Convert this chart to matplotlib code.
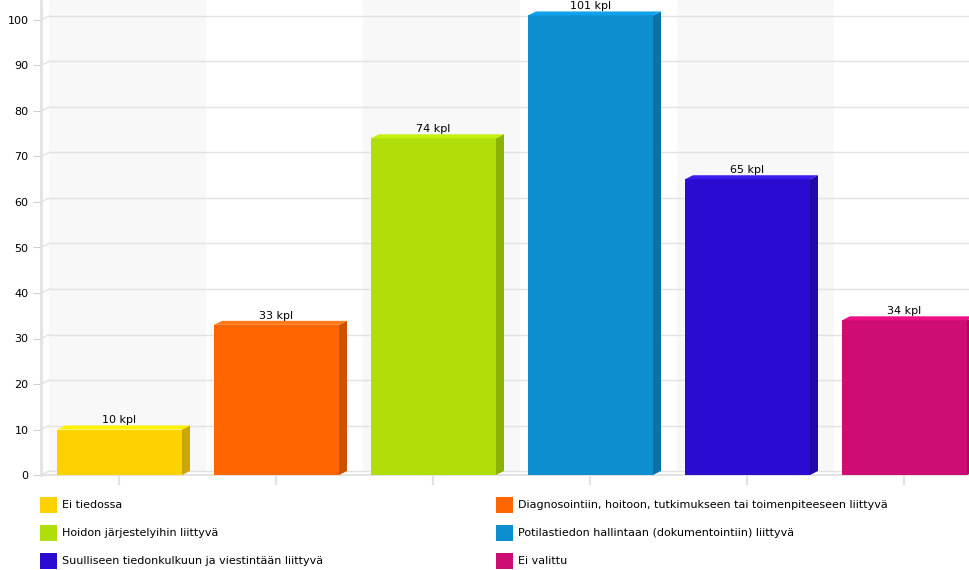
import matplotlib.pyplot as plt
from matplotlib.patches import Polygon, Rectangle

plt.rcParams["font.family"] = ["DejaVu Sans"]

# data
categories = [
    "Ei tiedossa",
    "Diagnosointiin, hoitoon, tutkimukseen tai toimenpiteeseen liittyvä",
    "Hoidon järjestelyihin liittyvä",
    "Potilastiedon hallintaan (dokumentointiin) liittyvä",
    "Suulliseen tiedonkulkuun ja viestintään liittyvä",
    "Ei valittu",
]
values = [10, 33, 74, 101, 65, 34]
front_colors = ["#FCD202", "#FF6600", "#B0DE09", "#0D8ECF", "#2A0CD0", "#CD0D74"]
top_colors = ["#FFF200", "#FF7A1A", "#C4F00C", "#12A2EC", "#3A1CEE", "#EC1086"]
side_colors = ["#C9A802", "#CC5200", "#8DB207", "#0A72A6", "#2209A6", "#A40A5D"]

W, H = 970, 570
fig = plt.figure(figsize=(W / 100, H / 100), dpi=100)

x0, y0 = 41, 475          # front-plane origin in pixels
cat_w = 157               # pixels per category
px_per_unit = 4.55
ax = fig.add_axes([x0 / W, (H - y0) / H, 6 * cat_w / W, y0 / H])
ymax = y0 / px_per_unit
ax.set_xlim(-0.5, 5.5)
ax.set_ylim(0, ymax)

# 3d depth in data units
dx = 8 / cat_w
dy = 4 / px_per_unit
grid_c = "#e2e2e2"

# back wall bands
for k in range(0, 6, 2):
    ax.add_patch(Rectangle((-0.5 + dx + k, dy), 1, ymax, color="#f8f8f8", zorder=0, lw=0))

# back wall grid
for v in range(0, 101, 10):
    ax.plot([-0.5, -0.5 + dx], [v, v + dy], color=grid_c, lw=1, zorder=1, clip_on=False)
    ax.plot([-0.5 + dx, 5.5 + dx], [v + dy, v + dy], color=grid_c, lw=1, zorder=1)

# bars
bw = 125 / cat_w
xs = list(range(len(values)))
ax.bar(xs, values, width=bw, color=front_colors, zorder=3, lw=0)
for x, v, tc, sc in zip(xs, values, top_colors, side_colors):
    r = x + bw / 2
    l = x - bw / 2
    ax.add_patch(Polygon([(r, 0), (r + dx, dy), (r + dx, v + dy), (r, v)],
                         closed=True, color=sc, lw=0, zorder=3))
    ax.add_patch(Polygon([(l, v), (l + dx, v + dy), (r + dx, v + dy), (r, v)],
                         closed=True, color=tc, lw=0, zorder=3))
    ax.text(x, v + 2.0, f"{v} kpl", ha="center", va="center",
            fontsize=8, color="#000000", zorder=4, clip_on=False)

# axes
for s in ["top", "right"]:
    ax.spines[s].set_visible(False)
ax.spines["left"].set_color(grid_c)
ax.spines["left"].set_linewidth(2)
ax.spines["bottom"].set_color(grid_c)
ax.spines["bottom"].set_linewidth(1.5)
ax.set_yticks(range(0, 101, 10))
ax.set_xticks(xs)
ax.set_xticklabels([])
ax.tick_params(axis="y", length=6, color="#d0d0d0", labelsize=8, pad=3)
ax.tick_params(axis="x", length=7, color=grid_c, width=1.5)
ax.set_facecolor("white")

# legend
legend_pos = [(40, 505), (496, 505), (40, 533), (496, 533), (40, 561), (496, 561)]
for (lx, ly), name, c in zip(legend_pos, categories, front_colors):
    fig.add_artist(Rectangle((lx / W, (H - ly - 8) / H), 17 / W, 16 / H,
                             color=c, lw=0, transform=fig.transFigure))
    fig.text((lx + 22) / W, (H - ly) / H, name, ha="left", va="center", fontsize=8)

fig.savefig("out.png", dpi=100)
